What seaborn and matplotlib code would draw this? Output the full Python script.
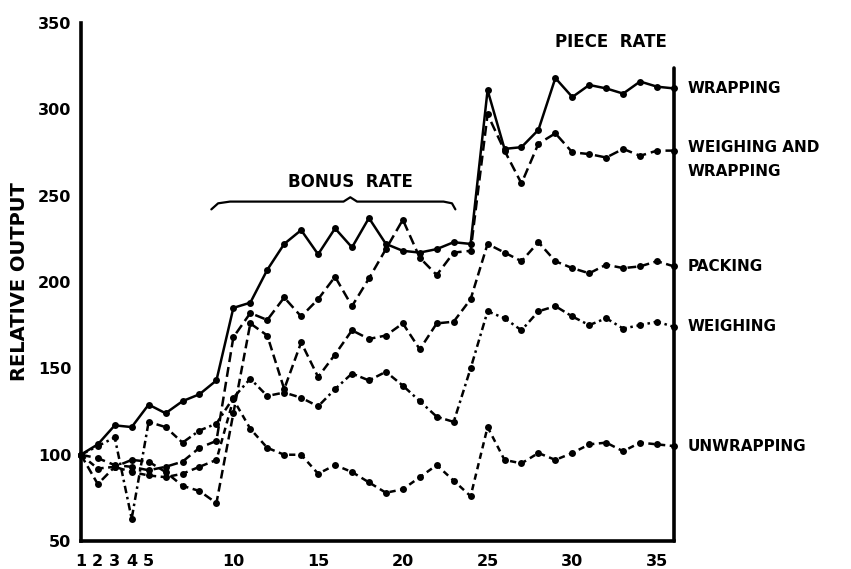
import pandas as pd
import matplotlib
matplotlib.use("Agg")
import matplotlib.pyplot as plt
import seaborn as sns

# weekly relative output (week 1 = 100)
weeks = list(range(1, 37))

wrapping = [100, 106, 117, 116, 129, 124, 131, 135, 143, 185, 188, 207,
            222, 230, 216, 231, 220, 237, 222, 218, 217, 219, 223, 222,
            311, 277, 278, 288, 318, 307, 314, 312, 309, 316, 313, 312]
weigh_wrap = [100, 98, 94, 93, 91, 93, 96, 104, 108, 168, 182, 178,
              191, 180, 190, 203, 186, 202, 219, 236, 214, 204, 217, 218,
              297, 276, 257, 280, 286, 275, 274, 272, 277, 273, 276, 276]
packing = [100, 83, 93, 97, 96, 90, 82, 79, 72, 124, 176, 169,
           138, 165, 145, 158, 172, 167, 169, 176, 161, 176, 177, 190,
           222, 217, 212, 223, 212, 208, 205, 210, 208, 209, 212, 209]
weighing = [100, 105, 110, 63, 119, 116, 107, 114, 118, 133, 144, 134,
            136, 133, 128, 138, 147, 143, 148, 140, 131, 122, 119, 150,
            183, 179, 172, 183, 186, 180, 175, 179, 173, 175, 177, 174]
unwrapping = [100, 92, 93, 90, 88, 87, 89, 93, 97, 132, 115, 104,
              100, 100, 89, 94, 90, 84, 78, 80, 87, 94, 85, 76,
              116, 97, 95, 101, 97, 101, 106, 107, 102, 107, 106, 105]

names = ["WRAPPING", "WEIGHING AND\nWRAPPING", "PACKING", "WEIGHING", "UNWRAPPING"]
series = [wrapping, weigh_wrap, packing, weighing, unwrapping]

xticks = [1, 2, 3, 4, 5, 10, 15, 20, 25, 30, 35]
yticks = [50, 100, 150, 200, 250, 300, 350]

df = pd.concat([pd.DataFrame({"week": weeks, "output": s, "process": n})
                for n, s in zip(names, series)])

dash_map = {names[0]: "", names[1]: (4, 2), names[2]: (3.5, 1.8),
            names[3]: (3, 1.5, 1, 1.5), names[4]: (2.5, 1.8)}
marker_map = {n: "o" for n in names}

sns.set_style("white")
plt.rcParams["font.family"] = ["DejaVu Sans"]
plt.rcParams["font.weight"] = "bold"
plt.rcParams["text.color"] = "black"
plt.rcParams["axes.labelcolor"] = "black"
plt.rcParams["xtick.color"] = "black"
plt.rcParams["ytick.color"] = "black"

fig = plt.figure(figsize=(8.51, 5.69), dpi=100)
ax = fig.add_axes([0.095, 0.049, 0.697, 0.911])

sns.lineplot(data=df, x="week", y="output", style="process",
             dashes=dash_map, markers=marker_map, color="black",
             linewidth=1.8, markersize=5, markeredgewidth=0,
             legend=False, ax=ax, clip_on=False)

ax.set_xlim(1, 36)
ax.set_ylim(50, 350)
ax.set_xticks(xticks)
ax.set_yticks(yticks)
ax.tick_params(length=0, labelsize=11.5, colors="black")
ax.tick_params(axis="x", pad=9)
ax.tick_params(axis="y", pad=7)
for lab in ax.get_xticklabels() + ax.get_yticklabels():
    lab.set_fontweight("bold")

for side in ["top", "right"]:
    ax.spines[side].set_visible(False)
for side in ["left", "bottom"]:
    ax.spines[side].set_linewidth(2.6)
    ax.spines[side].set_color("black")
ax.axvline(36, ymax=0.913, color="black", lw=2.6, clip_on=False)

ax.set_xlabel("")
ax.set_ylabel("RELATIVE OUTPUT", fontsize=14, fontweight="bold",
              color="black", labelpad=6)

# process labels at the right of the piece-rate line
for n, s in zip(names, series):
    dy = 8 if "\n" in n else 0
    ax.annotate(n, xy=(36, s[-1]), xytext=(10, dy), textcoords="offset points",
                va="top" if dy else "center", ha="left", fontsize=11,
                fontweight="bold", linespacing=1.75, color="black",
                annotation_clip=False)

# period labels
ax.text(16.9, 258, "BONUS  RATE", ha="center", va="center",
        fontsize=12, fontweight="bold", color="black")
ax.text(32.3, 339, "PIECE  RATE", ha="center", va="center",
        fontsize=12, fontweight="bold", color="black")

# bracket over the bonus-rate weeks
brace_x = [8.7, 9.1, 9.8, 16.5, 16.9, 17.3, 22.4, 22.9, 23.1]
brace_y = [242, 245.5, 246.5, 246.5, 249, 246.5, 246.5, 245.5, 242]
ax.plot(brace_x, brace_y, color="black", lw=1.6)

fig.savefig("out.png", dpi=100)
